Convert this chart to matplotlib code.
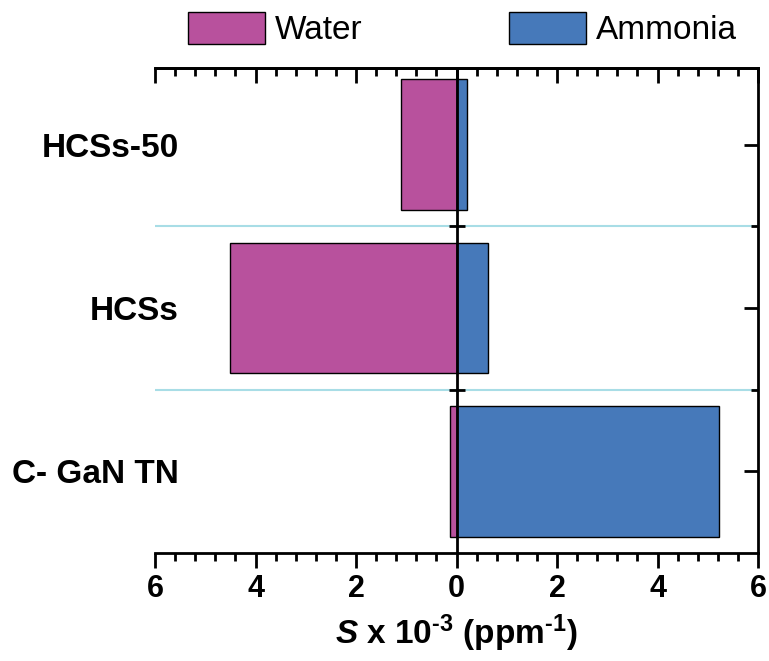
import matplotlib
matplotlib.use('Agg')
import numpy as np
import matplotlib.pyplot as plt
from matplotlib.ticker import MultipleLocator, FuncFormatter, FixedLocator

plt.rcParams['font.family'] = ['Liberation Sans', 'DejaVu Sans']
plt.rcParams['mathtext.fontset'] = 'custom'
plt.rcParams['mathtext.rm'] = 'Liberation Sans:bold'
plt.rcParams['mathtext.bf'] = 'Liberation Sans:bold'
plt.rcParams['mathtext.it'] = 'Liberation Sans:italic:bold'
plt.rcParams['mathtext.bfit'] = 'Liberation Sans:italic:bold'

# data (bottom to top)
categories = ['C- GaN TN', 'HCSs', 'HCSs-50']
water = [0.12, 4.5, 1.1]       # drawn to the left
ammonia = [5.23, 0.63, 0.21]   # drawn to the right

water_color = '#b8519d'
ammonia_color = '#4679ba'

fig = plt.figure(figsize=(7.69, 6.61), dpi=100)
ax = fig.add_axes([155/769, 1 - 553/661, 603/769, 485/661])

y = np.arange(len(categories))
ax.barh(y, -np.array(water), height=0.8, color=water_color, edgecolor='black', linewidth=1, label='Water', zorder=2)
ax.barh(y, ammonia, height=0.8, color=ammonia_color, edgecolor='black', linewidth=1, label='Ammonia', zorder=2)

# separators between categories
seps = y[:-1] + 0.5
for s in seps:
    ax.axhline(s, color='#a8dde6', linewidth=1.5, zorder=1)

# center line with small ticks
ax.axvline(0, color='black', linewidth=2, zorder=3)
ax.plot(np.zeros(len(seps)), seps, ls='none', marker='_', ms=11, mew=2, color='black', zorder=3)

ax.set_xlim(-6, 6)
ax.set_ylim(-0.5, 2.47)

# spines
ax.spines['left'].set_visible(False)
for side in ['top', 'bottom', 'right']:
    ax.spines[side].set_linewidth(2)

# x axis
ax.xaxis.set_major_locator(MultipleLocator(2))
ax.xaxis.set_minor_locator(MultipleLocator(0.4))
ax.xaxis.set_major_formatter(FuncFormatter(lambda v, p: f'{abs(v):g}'))
ax.tick_params(axis='x', which='major', direction='out', length=11, width=2, labelsize=22, pad=4)
ax.tick_params(axis='x', which='minor', direction='out', length=6, width=2)
for lab in ax.get_xticklabels():
    lab.set_fontweight('bold')

top = ax.secondary_xaxis('top')
top.xaxis.set_major_locator(MultipleLocator(2))
top.xaxis.set_minor_locator(MultipleLocator(0.4))
top.tick_params(axis='x', which='major', direction='in', length=11, width=2, labeltop=False)
top.tick_params(axis='x', which='minor', direction='in', length=6, width=2)
top.spines['top'].set_linewidth(2)

# y axis: labels left, ticks on right
ax.set_yticks(y)
ax.set_yticklabels(categories, fontsize=24, fontweight='bold')
ax.yaxis.set_minor_locator(FixedLocator(seps))
ax.tick_params(axis='y', which='both', left=False, right=True, labelleft=True, labelright=False, direction='in', width=2)
ax.tick_params(axis='y', which='major', length=10, pad=-17)
ax.tick_params(axis='y', which='minor', length=5)

ax.set_xlabel(r'$\mathit{S}$ x 10$^{\text{-3}}$ (ppm$^{\text{-1}}$)', fontsize=24, fontweight='bold', labelpad=6)

ax.legend(loc='center', bbox_to_anchor=(0.51, 1.08), ncol=2, frameon=False, fontsize=24,
          handlelength=2.3, handleheight=1.1, columnspacing=4.4, handletextpad=0.3)

fig.savefig('out.png', dpi=100)
